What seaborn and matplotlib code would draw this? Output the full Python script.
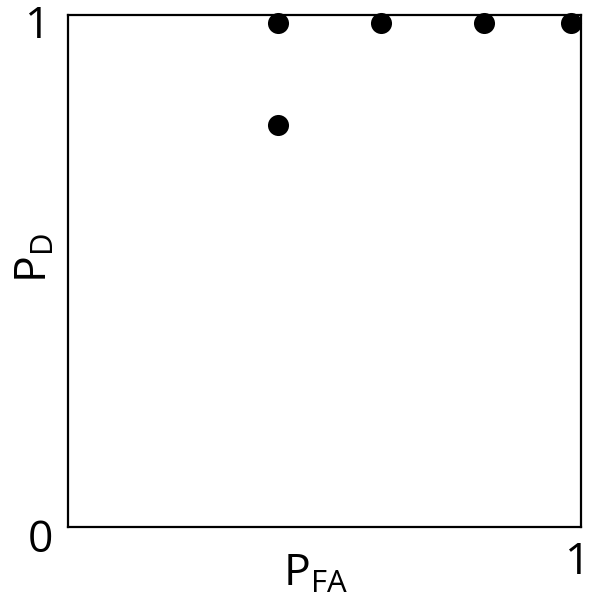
import matplotlib
matplotlib.use("Agg")
import matplotlib.pyplot as plt
import seaborn as sns
import pandas as pd

# data
p_fa = [0.41, 0.61, 0.81, 0.98, 0.41]
p_d = [0.985, 0.985, 0.985, 0.985, 0.785]

sns.set_theme(style="white")
plt.rcParams['font.family'] = ['Open Sans', 'DejaVu Sans']
plt.rcParams['mathtext.fontset'] = 'custom'
plt.rcParams['mathtext.rm'] = 'Open Sans'
plt.rcParams['mathtext.it'] = 'Open Sans'

df = pd.DataFrame({"pfa": p_fa, "pd": p_d})

W, H = 590, 601
fig = plt.figure(figsize=(W / 100, H / 100), dpi=100)
ax = fig.add_axes([68 / W, 1 - 527 / H, (581 - 68) / W, (527 - 15) / H])

sns.scatterplot(data=df, x="pfa", y="pd", ax=ax, color="black", s=230,
                edgecolor="black", linewidth=0, clip_on=False, zorder=5)

ax.set_xlim(0, 1)
ax.set_ylim(0, 1)
ax.set_xticks([])
ax.set_yticks([])
ax.set_xlabel("")
ax.set_ylabel("")
for sp in ax.spines.values():
    sp.set_visible(True)
    sp.set_color("black")
    sp.set_linewidth(1.6)

fs = 32
def ftext(px, py, s, **kw):
    fig.text(px / W, 1 - py / H, s, ha="center", va="center", fontsize=fs,
             color="black", **kw)

ftext(38, 27, "1")
ftext(40, 541, "0")
ftext(578, 563, "1")
ftext(315, 575, r"P$_{\mathrm{FA}}$")
ftext(36, 258, r"P$_{\mathrm{D}}$", rotation=90)

fig.savefig("out.png", dpi=100)
